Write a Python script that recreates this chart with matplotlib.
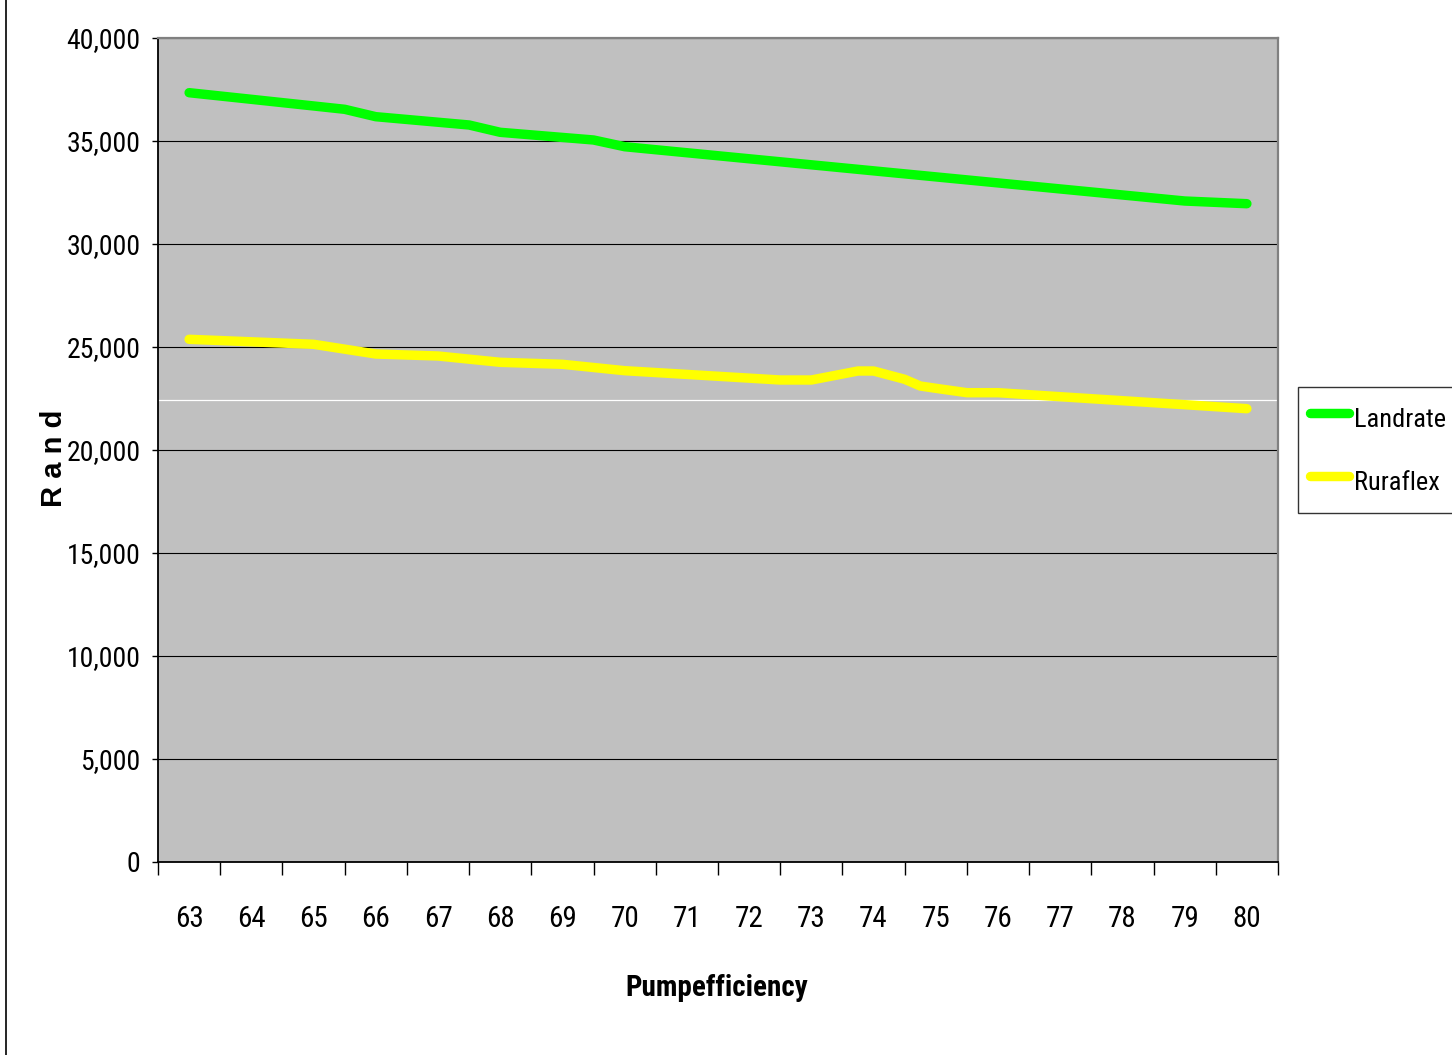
import matplotlib
matplotlib.use("Agg")
import matplotlib.pyplot as plt
from matplotlib.lines import Line2D
from matplotlib.ticker import FuncFormatter

plt.rcParams['font.family'] = ['Roboto Condensed', 'Liberation Sans', 'DejaVu Sans']

categories = list(range(63, 81))
tick_labels = [str(c) for c in categories]

# vertices (x in pump-efficiency units, y in Rand)
landrate_x = [63, 64, 65.5, 66, 67.5, 68, 69.5, 70, 79, 80]
landrate_y = [37345, 37024, 36539, 36180, 35777, 35422, 35049, 34723, 32087, 31956]

ruraflex_x = [63, 65, 66, 67, 68, 69, 70, 72.5, 73, 73.75, 74, 74.5, 74.75, 75, 75.5, 76, 77, 80]
ruraflex_y = [25374, 25131, 24660, 24563, 24257, 24160, 23850, 23398, 23398, 23835, 23835,
              23432, 23107, 22995, 22782, 22782, 22587, 22005]

W, H = 1452, 1055
fig = plt.figure(figsize=(W / 100, H / 100), dpi=100)
ax = fig.add_axes([158 / W, (H - 862) / H, 1120 / W, 824 / H])
ax.set_facecolor('#C0C0C0')

ax.set_xlim(62.5, 80.5)
ax.set_ylim(0, 40000)

# gridlines
ax.set_yticks(range(0, 40001, 5000))
ax.yaxis.set_major_formatter(FuncFormatter(lambda v, p: f"{int(v):,}"))
ax.grid(axis='y', color='black', linewidth=0.8)
ax.set_axisbelow(True)
ax.axhline(22427, color='white', linewidth=0.9, zorder=1.5)

ax.plot(landrate_x, landrate_y, color='#00FF00', linewidth=6.8, solid_capstyle='round',
        solid_joinstyle='round', label='Landrate', zorder=3)
ax.plot(ruraflex_x, ruraflex_y, color='#FFFF00', linewidth=6.8, solid_capstyle='round',
        solid_joinstyle='round', label='Ruraflex', zorder=3)

# x ticks: marks at category boundaries, labels at centers
ax.set_xticks([c - 0.5 for c in categories] + [categories[-1] + 0.5])
ax.set_xticklabels([])
ax.set_xticks(categories, minor=True)
ax.set_xticklabels(tick_labels, minor=True)
ax.tick_params(axis='x', which='major', direction='out', length=9, width=1, color='black')
ax.tick_params(axis='x', which='minor', length=0, pad=31, labelsize=21)
ax.tick_params(axis='y', direction='out', length=4.5, width=1, color='black', pad=8, labelsize=20)

for s in ['left', 'bottom']:
    ax.spines[s].set_color('black')
    ax.spines[s].set_linewidth(1.3)
for s in ['top', 'right']:
    ax.spines[s].set_color('#808080')
    ax.spines[s].set_linewidth(1.6)

fig.text(717 / W, 1 - 988 / H, 'Pumpefficiency', ha='center', va='center',
         fontsize=21, fontweight='bold')
fig.text(54 / W, 1 - 458 / H, 'R a n d', ha='center', va='center', rotation=90,
         fontsize=21, fontweight='bold', family=['Liberation Sans', 'DejaVu Sans'])

leg = fig.legend(loc='upper left', bbox_to_anchor=(1298 / W, 1 - 387 / H),
                 bbox_transform=fig.transFigure, frameon=True, fancybox=False,
                 edgecolor='black', facecolor='white', fontsize=19,
                 handlelength=1.5, handleheight=1.9, handletextpad=0.18, borderpad=0.45,
                 labelspacing=0.9, borderaxespad=0)
leg.get_frame().set_linewidth(1.0)

# chart-area border (left edge)
fig.add_artist(Line2D([6 / W, 6 / W], [0, 1], transform=fig.transFigure,
                      color='black', linewidth=1.2))

fig.savefig('out.png', dpi=100, facecolor='white')
